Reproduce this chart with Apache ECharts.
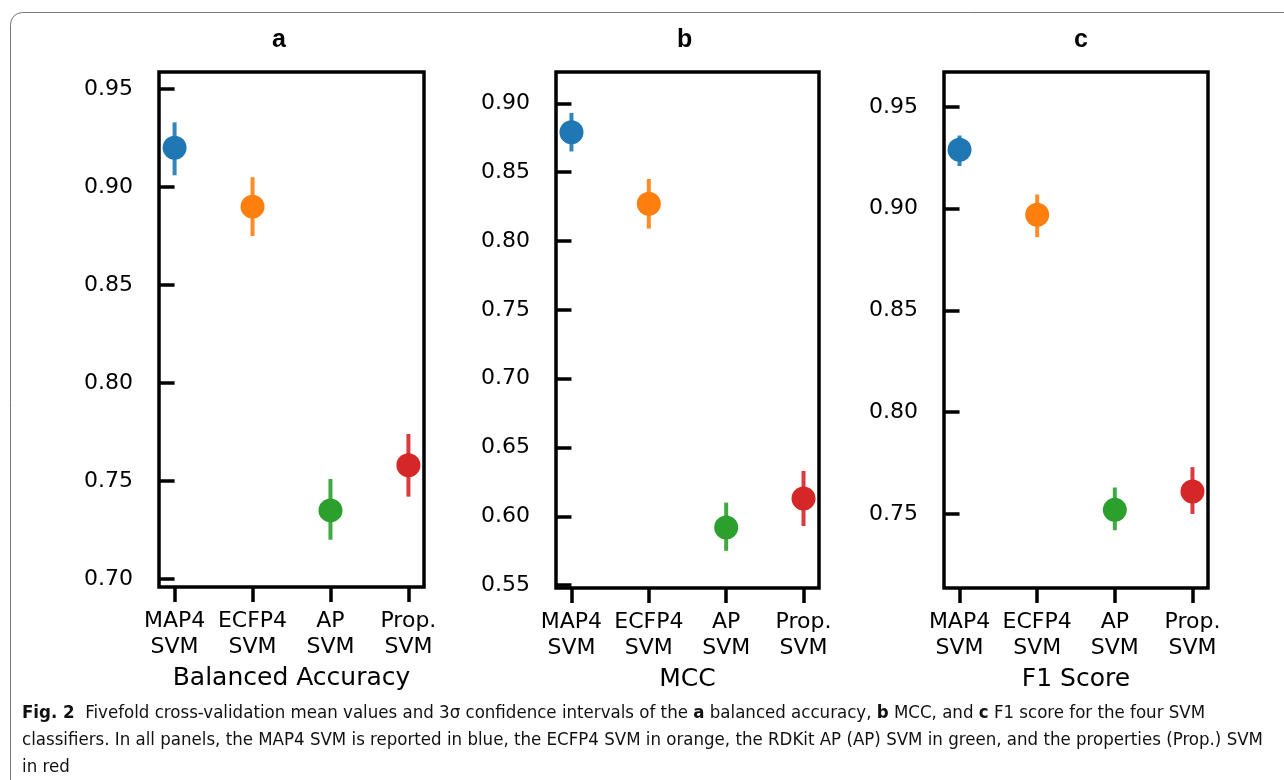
<!DOCTYPE html>
<html>
<head>
<meta charset="utf-8">
<script src="https://cdn.jsdelivr.net/npm/echarts@6/dist/echarts.min.js"></script>
<style>
  html, body { margin: 0; padding: 0; background: #fff; }
  #chart { width: 1284px; height: 780px; }
</style>
</head>
<body>
<div id="chart"></div>
<script>
// categories and colours shared by all three panels
const categories = ['MAP4\nSVM', 'ECFP4\nSVM', 'AP\nSVM', 'Prop.\nSVM'];
const colors = ['#1f77b4', '#ff7f0e', '#2ca02c', '#d62728'];

// a: balanced accuracy (mean, lower, upper of 3σ interval)
const accMean = [0.920, 0.890, 0.735, 0.758];
const accLow = [0.906, 0.875, 0.720, 0.742];
const accHigh = [0.933, 0.905, 0.751, 0.774];
const accTicks = [0.70, 0.75, 0.80, 0.85, 0.90, 0.95];

// b: MCC
const mccMean = [0.879, 0.827, 0.592, 0.613];
const mccLow = [0.865, 0.809, 0.575, 0.593];
const mccHigh = [0.893, 0.845, 0.610, 0.633];
const mccTicks = [0.55, 0.60, 0.65, 0.70, 0.75, 0.80, 0.85, 0.90];

// c: F1 score
const f1Mean = [0.929, 0.897, 0.752, 0.761];
const f1Low = [0.921, 0.886, 0.742, 0.750];
const f1High = [0.936, 0.907, 0.763, 0.773];
const f1Ticks = [0.75, 0.80, 0.85, 0.90, 0.95];

const panelTitles = ['a', 'b', 'c'];
const axisNames = ['Balanced Accuracy', 'MCC', 'F1 Score'];

const panels = [
  { mean: accMean, low: accLow, high: accHigh, ticks: accTicks, min: 0.6959, max: 0.9587,
    grid: { left: 159, top: 72, width: 265, height: 515 }, titleX: 280 },
  { mean: mccMean, low: mccLow, high: mccHigh, ticks: mccTicks, min: 0.548, max: 0.9227,
    grid: { left: 556, top: 72, width: 263, height: 516 }, titleX: 685 },
  { mean: f1Mean, low: f1Low, high: f1High, ticks: f1Ticks, min: 0.7136, max: 0.9672,
    grid: { left: 944, top: 72, width: 264, height: 516 }, titleX: 1082 },
];

const tickFont = { fontFamily: 'DejaVu Sans', fontSize: 22, color: '#000' };
const catPos = [0, 1, 2, 3];

const grids = [];
const xAxes = [];
const yAxes = [];
const series = [];
const graphics = [];

panels.forEach((p, i) => {
  grids.push({ ...p.grid, show: true, borderColor: '#000', borderWidth: 3.5, backgroundColor: 'transparent' });

  xAxes.push({
    type: 'value', gridIndex: i, min: -0.2, max: 3.2,
    name: axisNames[i], nameLocation: 'middle', nameGap: 79,
    nameTextStyle: { fontFamily: 'DejaVu Sans', fontSize: 25, color: '#000' },
    axisLine: { show: false },
    splitLine: { show: false },
    axisTick: { show: true, customValues: catPos, length: 15, lineStyle: { color: '#000', width: 3.5 } },
    axisLabel: {
      customValues: catPos, margin: 21, lineHeight: 26, ...tickFont,
      formatter: (v) => categories[Math.round(v)],
    },
  });

  yAxes.push({
    type: 'value', gridIndex: i, min: p.min, max: p.max,
    axisLine: { show: false },
    splitLine: { show: false },
    axisTick: { show: true, customValues: p.ticks, length: 15, lineStyle: { color: '#000', width: 3.5 } },
    axisLabel: { customValues: p.ticks, margin: 26, ...tickFont, formatter: (v) => v.toFixed(2) },
  });

  // 3σ error bars
  series.push({
    type: 'custom', xAxisIndex: i, yAxisIndex: i, z: 2,
    data: p.mean.map((m, k) => [k, p.low[k], p.high[k]]),
    renderItem: (params, api) => {
      const k = api.value(0);
      const a = api.coord([k, api.value(1)]);
      const b = api.coord([k, api.value(2)]);
      return {
        type: 'line',
        shape: { x1: a[0], y1: a[1], x2: b[0], y2: b[1] },
        style: { stroke: colors[k], lineWidth: 4, opacity: 0.9 },
      };
    },
  });

  // mean points
  series.push({
    type: 'scatter', xAxisIndex: i, yAxisIndex: i, z: 3,
    symbol: 'circle', symbolSize: 24,
    data: p.mean.map((m, k) => ({ value: [k, m], itemStyle: { color: colors[k], opacity: 1 } })),
  });

  graphics.push({
    type: 'text', left: p.titleX - 8, top: 28,
    style: { text: panelTitles[i], font: 'bold 25px "Liberation Sans", Arial, sans-serif', fill: '#000' },
  });
});

// figure frame and caption
graphics.push({
  type: 'rect', shape: { x: 10.5, y: 12.5, width: 1300, height: 800, r: 12 },
  style: { fill: 'none', stroke: '#777', lineWidth: 1 }, z: -1,
});
const capFont = '"Liberation Sans Narrow", "DejaVu Sans Condensed", sans-serif';
graphics.push({
  type: 'text', left: 22, top: 700,
  style: {
    text: '{b|Fig. 2}  Fivefold cross-validation mean values and 3σ confidence intervals of the {b|a} balanced accuracy, {b|b} MCC, and {b|c} F1 score for the four SVM\n' +
      'classifiers. In all panels, the MAP4 SVM is reported in blue, the ECFP4 SVM in orange, the RDKit AP (AP) SVM in green, and the properties (Prop.) SVM\n' +
      'in red',
    fontFamily: capFont, fontSize: 18.5, lineHeight: 27, fill: '#111',
    rich: { b: { fontWeight: 'bold', fontFamily: capFont, fontSize: 18.5, lineHeight: 27 } },
  },
});

const chart = echarts.init(document.getElementById('chart'));
chart.setOption({
  animation: false,
  backgroundColor: '#fff',
  grid: grids,
  xAxis: xAxes,
  yAxis: yAxes,
  series,
  graphic: graphics,
});
</script>
</body>
</html>
